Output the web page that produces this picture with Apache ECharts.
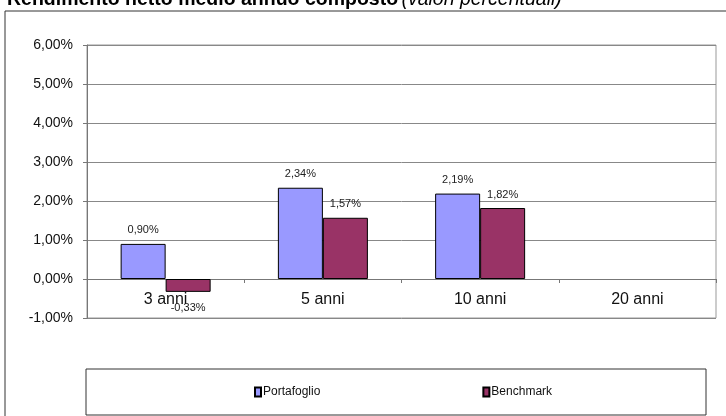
<!DOCTYPE html>
<html><head><meta charset="utf-8">
<script src="https://cdn.jsdelivr.net/npm/echarts@6/dist/echarts.min.js"></script>
<style>html,body{margin:0;padding:0;background:#fff}#c{width:726px;height:416px}</style>
</head><body><div id="c"></div>
<script>
const categories = ['3 anni', '5 anni', '10 anni', '20 anni'];
const portafoglio = [0.90, 2.34, 2.19, null];
const benchmark = [-0.33, 1.57, 1.82, null];
const seriesNames = ['Portafoglio', 'Benchmark'];
const titleBold = 'Rendimento netto medio annuo composto';
const titleItalic = '(valori percentuali)';

const NF = '"Liberation Sans Narrow", "Liberation Sans", Arial, sans-serif';
const fmt = v => v.toFixed(2).replace('.', ',') + '%';

function toData(arr) {
  return arr.map(v => v == null ? null : ({
    value: v,
    label: { position: v < 0 ? 'bottom' : 'top', distance: v < 0 ? 11 : 8 }
  }));
}

const chart = echarts.init(document.getElementById('c'));
chart.setOption({
  animation: false,
  grid: { left: 87, right: 10, top: 45, bottom: 98, show: true, borderColor: '#999', borderWidth: 1 },
  xAxis: {
    type: 'category', data: categories,
    offset: -39,
    axisLine: { onZero: false, lineStyle: { color: '#777' } },
    axisTick: { show: true, length: 4, lineStyle: { color: '#777' } },
    axisLabel: { fontFamily: NF, fontSize: 16, color: '#111', margin: 13 }
  },
  yAxis: {
    type: 'value', min: -1, max: 6, interval: 1,
    axisLine: { show: true, lineStyle: { color: '#777' } },
    axisTick: { show: true, length: 4, lineStyle: { color: '#777' } },
    splitLine: { lineStyle: { color: '#888', width: 1 } },
    axisLabel: { fontFamily: NF, fontSize: 14, color: '#111', margin: 14, formatter: fmt }
  },
  legend: {
    left: 254, top: 386, padding: 0, itemWidth: 6, itemHeight: 9, itemGap: 162,
    icon: 'rect',
    textStyle: { fontFamily: NF, fontSize: 12, color: '#111', padding: [0, 0, 0, -3] },
    data: seriesNames
  },
  series: [
    {
      name: seriesNames[0], type: 'bar', data: toData(portafoglio),
      barWidth: 45, barGap: '0%',
      itemStyle: { color: '#9999FF', borderColor: '#000', borderWidth: 1 },
      label: { show: true, fontFamily: NF, fontSize: 11, color: '#222', formatter: p => fmt(p.value) }
    },
    {
      name: seriesNames[1], type: 'bar', data: toData(benchmark),
      barWidth: 45, barGap: '0%',
      itemStyle: { color: '#993366', borderColor: '#000', borderWidth: 1 },
      label: { show: true, fontFamily: NF, fontSize: 11, color: '#222', formatter: p => fmt(p.value) }
    }
  ],
  graphic: [
    { type: 'rect', shape: { x: 5, y: 11, width: 900, height: 600 }, style: { fill: 'none', stroke: '#333', lineWidth: 1 }, silent: true, z: -1 },
    { type: 'rect', shape: { x: 86, y: 369, width: 620, height: 46 }, style: { fill: 'none', stroke: '#333', lineWidth: 1 }, silent: true },
    { type: 'text', x: 7, y: 10, style: {
        text: '{b|' + titleBold + '} {i|' + titleItalic + '}',
        verticalAlign: 'bottom',
        rich: {
          b: { fontFamily: '"Liberation Sans", Arial, sans-serif', fontWeight: 'bold', fontSize: 19.5, fill: '#000' },
          i: { fontFamily: '"Liberation Sans", Arial, sans-serif', fontStyle: 'italic', fontSize: 19.5, fill: '#000' }
        }
      } }
  ]
});
</script></body></html>
